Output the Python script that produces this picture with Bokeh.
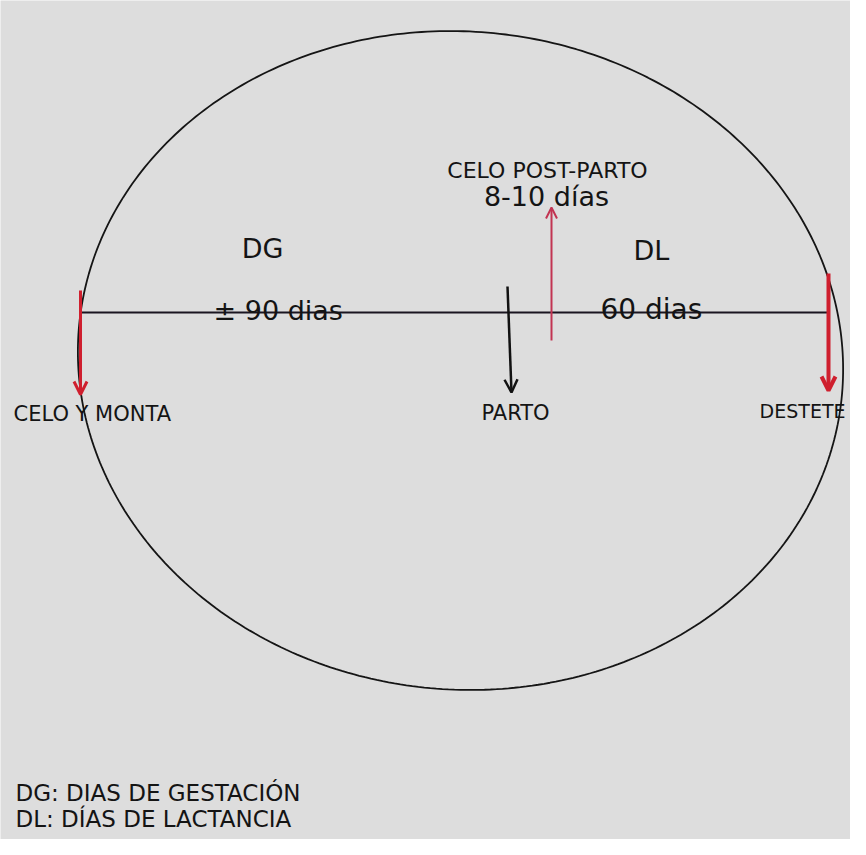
import numpy as np
from bokeh.plotting import figure
from bokeh.models import Range1d, Arrow, OpenHead
from bokeh.core.properties import value
from bokeh.embed import file_html
from bokeh.resources import INLINE

# ---- diagram content ----
stage_labels = ["CELO Y MONTA", "PARTO", "DESTETE"]
period_names = ["DG", "DL"]
period_days = ["± 90 dias", "60 dias"]
postpartum_label = ["CELO POST-PARTO", "8-10 días"]
legend_lines = ["DG: DIAS DE GESTACIÓN", "DL: DÍAS DE LACTANCIA"]

W, H = 850, 839
p = figure(width=W, height=H, output_backend="svg", toolbar_location=None,
           x_range=Range1d(0, W), y_range=Range1d(H, 0),
           x_axis_type=None, y_axis_type=None, min_border=0)
p.grid.visible = False
p.outline_line_color = None
p.background_fill_color = "#dddddd"
p.border_fill_color = "#dddddd"

# cycle ellipse (hand drawn, slightly tilted)
cx, cy, a, b, phi = 460, 360, 383, 329, np.deg2rad(5)
t = np.linspace(0, 2 * np.pi, 400)
ex = cx + a * np.cos(t) * np.cos(phi) - b * np.sin(t) * np.sin(phi)
ey = cy + a * np.cos(t) * np.sin(phi) + b * np.sin(t) * np.cos(phi)
p.line(ex, ey, line_color="#151515", line_width=1.8)

# time line
p.segment(x0=[80], y0=[312], x1=[828], y1=[312], line_color="#1a1520", line_width=2)

BLACK = "#111111"
RED = "#cf1f2e"
PINK = "#c23452"
font = value("DejaVu Sans")

def arrow(x0, y0, x1, y1, color, w, size):
    p.add_layout(Arrow(end=OpenHead(line_color=color, line_width=w, size=size),
                       x_start=x0, y_start=y0, x_end=x1, y_end=y1,
                       line_color=color, line_width=w))

arrow(80, 290, 80, 394, RED, 3, 13)
arrow(828, 273, 828, 390, RED, 4, 14)
arrow(507, 286, 511, 392, BLACK, 2.5, 13)
arrow(551, 340, 551, 207, PINK, 2, 11)

def txt(x, y, s, size, align="left", baseline="middle"):
    p.text(x=[x], y=[y], text=[s], text_font=font, text_font_size=f"{size}px",
           text_color="#141414", text_align=align, text_baseline=baseline)

# stage labels
txt(13, 413, stage_labels[0], 21)
txt(515, 412, stage_labels[1], 21, "center")
txt(845, 410, stage_labels[2], 19, "right")

# periods
txt(262, 248, period_names[0], 27, "center")
txt(651, 250, period_names[1], 27, "center")
txt(213, 310, period_days[0], 27, "left", "alphabetic")
txt(600, 309, period_days[1], 28, "left", "alphabetic")

# post-partum heat
txt(547, 170, postpartum_label[0], 22, "center")
txt(546, 196, postpartum_label[1], 27, "center")

# legend
txt(15, 792, legend_lines[0], 23)
txt(15, 818, legend_lines[1], 23)

open("out.html", "w").write(file_html(p, INLINE))
